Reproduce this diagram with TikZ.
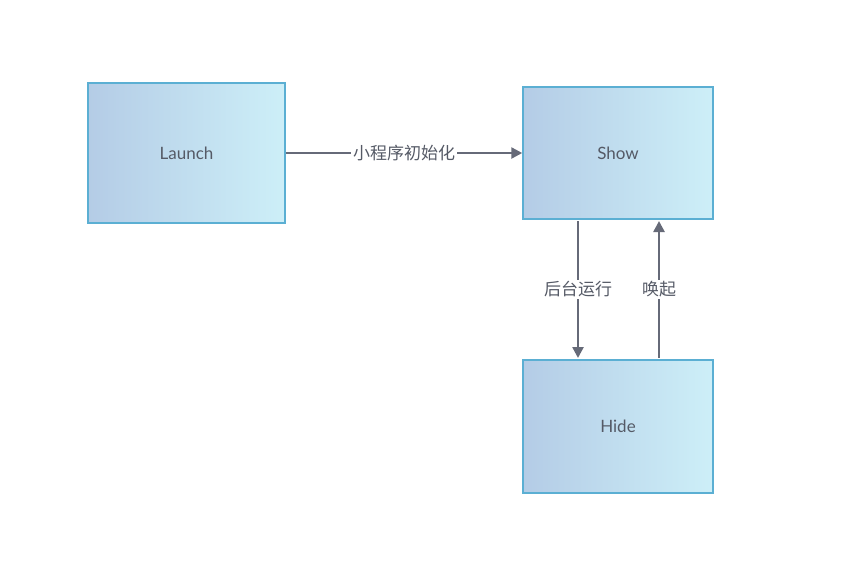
\documentclass[tikz,border=0pt]{standalone}
\usepackage{fontspec}
\setmainfont{Lato}
\newfontfamily\cjk{Noto Sans CJK SC}
\usetikzlibrary{arrows.meta}
\definecolor{bl}{HTML}{B4CCE6}
\definecolor{cy}{HTML}{CDEFF8}
\definecolor{bd}{HTML}{5BAFD3}
\definecolor{ar}{HTML}{666A78}
\definecolor{tx}{HTML}{555A66}
\begin{document}
\begin{tikzpicture}[x=1pt,y=-1pt,
 box/.style={draw=bd,line width=1.5pt,left color=bl,right color=cy,text=tx,font=\fontsize{17}{20}\selectfont},
 con/.style={draw=ar,line width=2.5pt,-{Triangle[length=11pt,width=11pt]}},
 lab/.style={fill=white,text=tx,inner sep=2pt,font=\cjk\fontsize{17}{20}\selectfont}]
\useasboundingbox (0,0) rectangle (851,574);
\node[box,minimum width=197pt,minimum height=140pt] (L) at (186.5,153) {Launch};
\node[box,minimum width=190pt,minimum height=132pt] (S) at (618,153) {Show};
\node[box,minimum width=190pt,minimum height=133pt] (H) at (618,426.5) {Hide};
\draw[con] (L.east) -- node[lab]{小程序初始化} (S.west);
\coordinate (s1) at (578,221); \coordinate (h1) at (578,358);
\coordinate (s2) at (659,221); \coordinate (h2) at (659,358);
\draw[con] (s1) -- node[lab,pos=0.5]{后台运行} (h1);
\draw[con] (h2) -- node[lab,pos=0.5]{唤起} (s2);
\end{tikzpicture}
\end{document}
